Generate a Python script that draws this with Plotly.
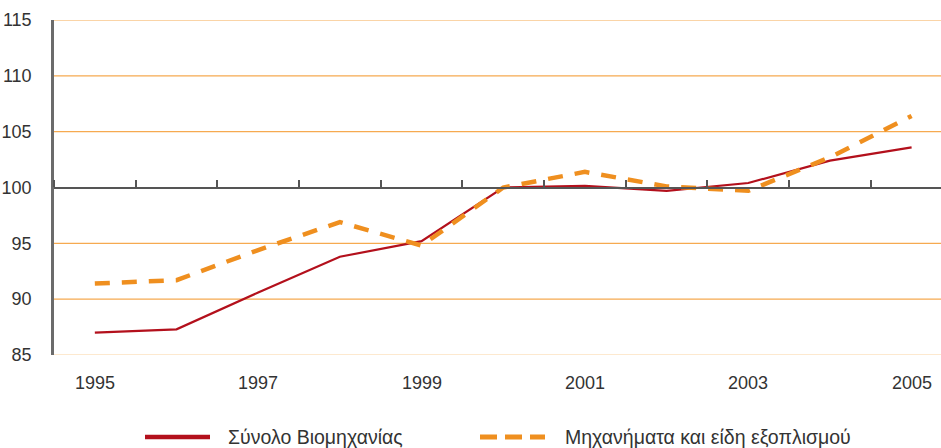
import plotly.graph_objects as go

years = ["1995", "1996", "1997", "1998", "1999", "2000", "2001", "2002", "2003", "2004", "2005"]
industry_total = [87.0, 87.3, 90.6, 93.8, 95.2, 100.0, 100.15, 99.7, 100.4, 102.4, 103.6]
machinery = [91.4, 91.7, 94.4, 96.9, 94.8, 100.0, 101.4, 100.1, 99.7, 102.7, 106.4]
series_names = ["Σύνολο Βιομηχανίας", "Μηχανήματα και είδη εξοπλισμού"]
y_ticks = [85, 90, 95, 100, 105, 110, 115]

RED = "#b3101c"
ORANGE = "#ef8f1f"
GRID = "#f6aa50"
GRID_BASE = "#fbd3a0"
xi = list(range(len(years)))
font_family = "Liberation Sans, Arial, sans-serif"
FS = 18
FS_LEG = 19.5

W, H = 941, 448
ML, MR, MT, MB = 54, 0, 20, 93
PW, PH = W - ML - MR, H - MT - MB

fig = go.Figure()
fig.add_trace(go.Scatter(x=xi, y=industry_total, mode="lines", name=series_names[0],
                         line=dict(color=RED, width=2.2), showlegend=False))
fig.add_trace(go.Scatter(x=xi, y=machinery, mode="lines", name=series_names[1],
                         line=dict(color=ORANGE, width=4.5, dash="15px,12px"), showlegend=False))

def px_x(p):
    return (p - ML) / PW

def px_y(p):
    return (H - MB - p) / PH

# horizontal gridlines at the y tick values (skip 100, where the category axis sits)
for v in y_ticks:
    if v == 100:
        continue
    fig.add_shape(type="line", xref="paper", yref="y", x0=0, x1=1, y0=v, y1=v,
                  layer="below",
                  line=dict(color=GRID_BASE if v == y_ticks[0] else GRID, width=1.2))

# year labels below the plot (every other year)
for i in xi[::2]:
    fig.add_annotation(xref="x", yref="paper", x=i, y=px_y(383),
                       xanchor="center", yanchor="middle", showarrow=False,
                       text=years[i], font=dict(size=FS, color="#333333", family=font_family))

# manual legend
leg_y = px_y(437)
legend_items = [
    (145, 210, 226, RED, 4.5, "solid", series_names[0]),
    (480, 545, 563, ORANGE, 5, "17px,8px", series_names[1]),
]
for x0, x1, xt, col, w, dash, txt in legend_items:
    fig.add_shape(type="line", xref="paper", yref="paper",
                  x0=px_x(x0), x1=px_x(x1), y0=leg_y, y1=leg_y,
                  line=dict(color=col, width=w, dash=dash))
    fig.add_annotation(xref="paper", yref="paper", x=px_x(xt), y=leg_y,
                       xanchor="left", yanchor="middle", showarrow=False,
                       text=txt, font=dict(size=FS_LEG, color="#333333", family=font_family))

xr = [-0.5, 10.36]
fig.update_layout(
    width=W, height=H,
    margin=dict(l=ML, r=MR, t=MT, b=MB),
    paper_bgcolor="white", plot_bgcolor="white",
    font=dict(family=font_family, size=FS, color="#333333"),
    showlegend=False,
    xaxis=dict(range=xr, anchor="free", position=0.5, side="top",
               showline=True, linecolor="#555555", linewidth=1.5,
               ticks="outside", ticklen=7, tickwidth=1.5, tickcolor="#555555",
               tickmode="array", tickvals=[i - 0.5 for i in xi],
               showticklabels=False, showgrid=False, zeroline=False, automargin=False),
    yaxis=dict(range=[85, 115], tickmode="array", tickvals=y_ticks,
               showgrid=False, zeroline=False,
               showline=True, linecolor="#6b6b6b", linewidth=2.5,
               ticks="", ticklabelstandoff=16, tickfont=dict(size=FS), automargin=False),
)

fig.write_html("out.html", config={"displayModeBar": False},
               post_script="document.body.style.margin='0';document.body.style.overflow='hidden';")
